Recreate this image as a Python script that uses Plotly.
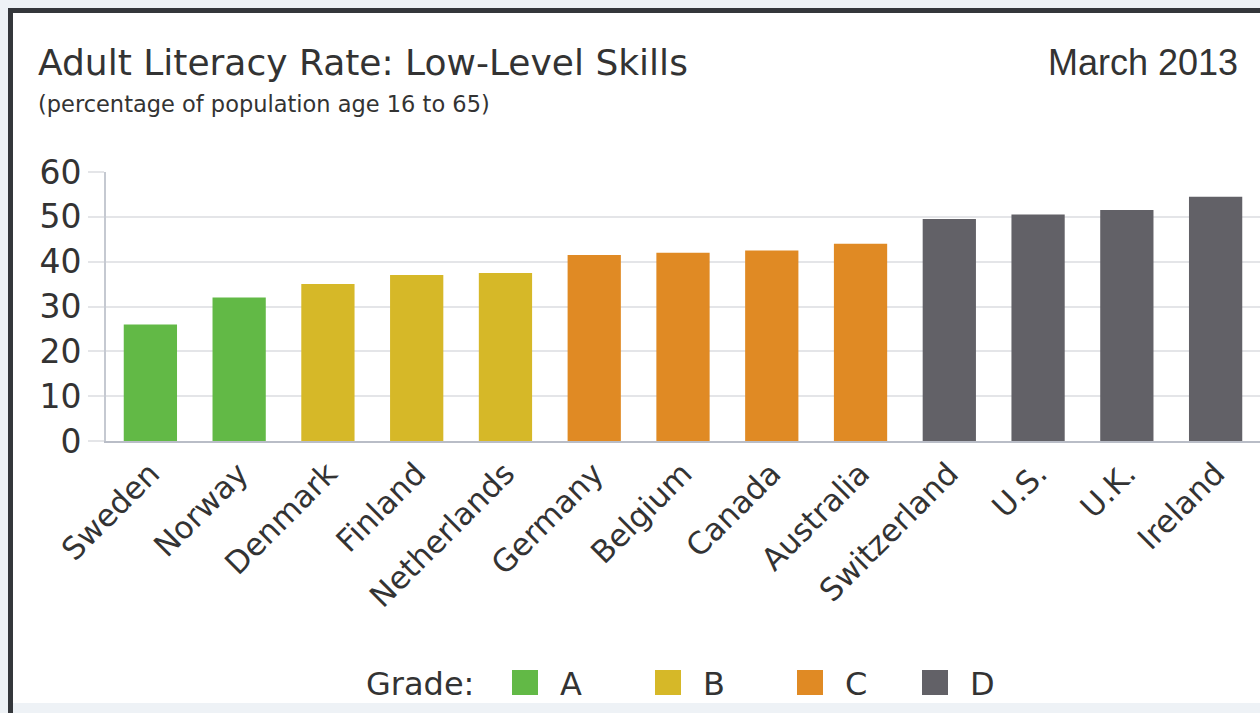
import plotly.graph_objects as go

# ---- data ----
countries = ["Sweden", "Norway", "Denmark", "Finland", "Netherlands", "Germany",
             "Belgium", "Canada", "Australia", "Switzerland", "U.S.", "U.K.", "Ireland"]
values = [26, 32, 35, 37, 37.5, 41.5, 42, 42.5, 44, 49.5, 50.5, 51.5, 54.5]
grades = ["A", "A", "B", "B", "B", "C", "C", "C", "C", "D", "D", "D", "D"]
grade_names = ["A", "B", "C", "D"]
grade_colors = ["#62b946", "#d6b828", "#e08a24", "#626167"]
y_ticks = [0, 10, 20, 30, 40, 50, 60]

color_of = dict(zip(grade_names, grade_colors))

W, H = 1260, 713
L, R, T, B = 106, 0, 172, 272
PW, PH = W - L - R, H - T - B

def px(x):
    return (x - L) / PW

def py(y):
    return (H - B - y) / PH

FONT = "DejaVu Sans, Verdana, sans-serif"
TXT = "#333333"

fig = go.Figure()
fig.add_trace(go.Bar(
    x=countries, y=values,
    marker=dict(color=[color_of[g] for g in grades], line=dict(width=0)),
    showlegend=False,
))

shapes = [
    # white card
    dict(type="rect", xref="paper", yref="paper", x0=px(10), x1=px(W + 5), y0=py(703), y1=py(10),
         fillcolor="white", line=dict(width=0), layer="below"),
    # dark border top and left
    dict(type="line", xref="paper", yref="paper", x0=px(10), x1=px(W + 5), y0=py(10.5), y1=py(10.5),
         line=dict(color="#34373b", width=5)),
    dict(type="line", xref="paper", yref="paper", x0=px(10.5), x1=px(10.5), y0=py(8), y1=py(713),
         line=dict(color="#34373b", width=5)),
]

annotations = [
    dict(text="Adult Literacy Rate: Low-Level Skills", xref="paper", yref="paper",
         x=px(36), y=py(63), xanchor="left", yanchor="middle", showarrow=False,
         font=dict(family=FONT, size=36, color=TXT)),
    dict(text="(percentage of population age 16 to 65)", xref="paper", yref="paper",
         x=px(36), y=py(104), xanchor="left", yanchor="middle", showarrow=False,
         font=dict(family=FONT, size=22.5, color=TXT)),
    dict(text="March 2013", xref="paper", yref="paper",
         x=px(1240), y=py(62), xanchor="right", yanchor="middle", showarrow=False,
         font=dict(family="Liberation Sans, Arial, sans-serif", size=36, color=TXT)),
    dict(text="Grade:", xref="paper", yref="paper",
         x=px(364), y=py(684), xanchor="left", yanchor="middle", showarrow=False,
         font=dict(family=FONT, size=32, color=TXT)),
]

leg_square_x = [512, 655, 797, 922]
for sx, g, c in zip(leg_square_x, grade_names, grade_colors):
    shapes.append(dict(type="rect", xref="paper", yref="paper",
                       x0=px(sx), x1=px(sx + 26), y0=py(695), y1=py(670),
                       fillcolor=c, line=dict(width=0)))
    annotations.append(dict(text=g, xref="paper", yref="paper",
                            x=px(sx + 46), y=py(684), xanchor="left", yanchor="middle",
                            showarrow=False, font=dict(family=FONT, size=32, color=TXT)))

fig.update_layout(
    width=W, height=H,
    margin=dict(l=L, r=R, t=T, b=B, pad=0),
    paper_bgcolor="#eef2f6",
    plot_bgcolor="white",
    bargap=0.4,
    shapes=shapes,
    annotations=annotations,
    showlegend=False,
)
fig.update_xaxes(
    tickangle=-45, tickfont=dict(family=FONT, size=31, color=TXT),
    showline=True, linecolor="#b9bdc7", linewidth=2, showgrid=False, ticks="",
)
fig.update_yaxes(
    range=[0, 60], tickvals=y_ticks,
    tickfont=dict(family=FONT, size=33, color=TXT),
    showgrid=True, gridcolor="#e4e5e8", gridwidth=2,
    ticks="outside", ticklen=16, tickcolor="#e4e5e8", tickwidth=2,
    showline=True, linecolor="#c5c9d1", linewidth=2, zeroline=False,
)

fig.write_html("out.html")
